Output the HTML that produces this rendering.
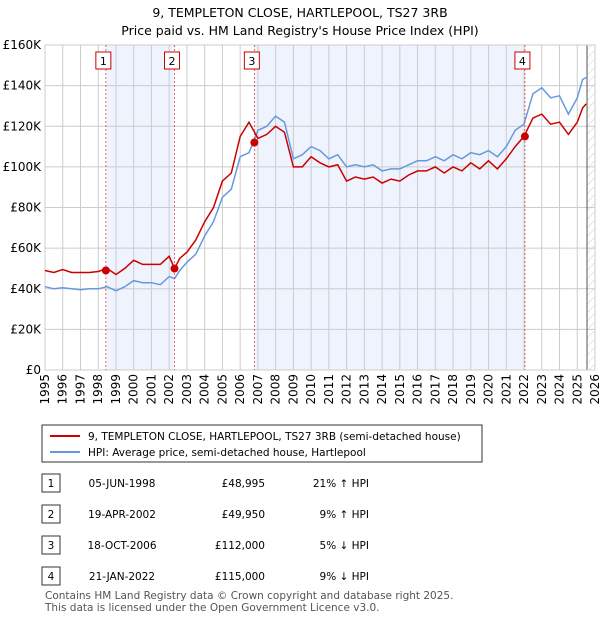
<!DOCTYPE html>
<html><head><meta charset="utf-8"><style>
body{margin:0;background:#fff;font-family:"DejaVu Sans","Liberation Sans",sans-serif;}
svg text{font-family:"DejaVu Sans","Liberation Sans",sans-serif;}
</style></head><body>
<svg id="c" width="600" height="620" xmlns="http://www.w3.org/2000/svg">
<defs><pattern id="hatch" width="6" height="6" patternUnits="userSpaceOnUse" patternTransform="rotate(45)"><line x1="0" y1="0" x2="0" y2="6" stroke="#ccc" stroke-width="1"/></pattern></defs>
<text x="300" y="17" text-anchor="middle" font-size="12.5">9, TEMPLETON CLOSE, HARTLEPOOL, TS27 3RB</text>
<text x="300" y="35" text-anchor="middle" font-size="12.5">Price paid vs. HM Land Registry's House Price Index (HPI)</text>
<g id="plot"></g>
<g id="legend">
<rect x="42" y="425" width="440" height="37" fill="#fff" stroke="#333"/>
<line x1="50" y1="436" x2="80" y2="436" stroke="#cc0000" stroke-width="2"/>
<text x="88" y="440" font-size="10.5">9, TEMPLETON CLOSE, HARTLEPOOL, TS27 3RB (semi-detached house)</text>
<line x1="50" y1="452" x2="80" y2="452" stroke="#6699dd" stroke-width="2"/>
<text x="88" y="456" font-size="10.5">HPI: Average price, semi-detached house, Hartlepool</text>
</g>
<g id="table"></g>
<text x="45" y="599" font-size="10.5" fill="#555">Contains HM Land Registry data © Crown copyright and database right 2025.</text>
<text x="45" y="611" font-size="10.5" fill="#555">This data is licensed under the Open Government Licence v3.0.</text>
</svg>
<script>
const hpiYears=[1995,1995.5,1996,1996.5,1997,1997.5,1998,1998.5,1999,1999.5,2000,2000.5,2001,2001.5,2002,2002.3,2002.6,2003,2003.5,2004,2004.5,2005,2005.5,2006,2006.5,2007,2007.5,2008,2008.5,2009,2009.5,2010,2010.5,2011,2011.5,2012,2012.5,2013,2013.5,2014,2014.5,2015,2015.5,2016,2016.5,2017,2017.5,2018,2018.5,2019,2019.5,2020,2020.5,2021,2021.5,2022,2022.5,2023,2023.5,2024,2024.5,2025,2025.3,2025.5];
const hpiValues=[41,40,40.5,40,39.5,40,40,41,39,41,44,43,43,42,46,45,49,53,57,66,73,85,89,105,107,118,120,125,122,104,106,110,108,104,106,100,101,100,101,98,99,99,101,103,103,105,103,106,104,107,106,108,105,110,118,121,136,139,134,135,126,134,143,144];
const priceValues=[49,48,49.5,48,48,48,48.5,50,47,50,54,52,52,52,56,50,55,58,64,73,80,93,97,115,122,114,116,120,117,100,100,105,102,100,101,93,95,94,95,92,94,93,96,98,98,100,97,100,98,102,99,103,99,104,110,115,124,126,121,122,116,122,129,131];
const saleYears=[1998.43,2002.3,2006.8,2022.05];
const salePrices=[48995,49950,112000,115000];
const saleDates=["05-JUN-1998","19-APR-2002","18-OCT-2006","21-JAN-2022"];
const salePriceLabels=["£48,995","£49,950","£112,000","£115,000"];
const saleDiffs=["21% ↑ HPI","9% ↑ HPI","5% ↓ HPI","9% ↓ HPI"];
const yTicks=[0,20,40,60,80,100,120,140,160];
const xTicks=[1995,1996,1997,1998,1999,2000,2001,2002,2003,2004,2005,2006,2007,2008,2009,2010,2011,2012,2013,2014,2015,2016,2017,2018,2019,2020,2021,2022,2023,2024,2025,2026];

const X0=45,X1=595,Y0=370,Y1=45;
const xs=y=>X0+(y-1995)/(2026-1995)*(X1-X0);
const ys=v=>Y0-v/160*(Y0-Y1);
const NS="http://www.w3.org/2000/svg";
const plot=document.getElementById('plot');
function mk(tag,attrs,parent){const e=document.createElementNS(NS,tag);for(const k in attrs)e.setAttribute(k,attrs[k]);(parent||plot).appendChild(e);return e;}
mk('rect',{x:X0,y:Y1,width:X1-X0,height:Y0-Y1,fill:'#fff'});
for(const [a,b] of [[0,1],[2,3]]){
 const r=mk('rect',{x:xs(saleYears[a]),y:Y1,width:xs(saleYears[b])-xs(saleYears[a]),height:Y0-Y1,fill:'#eef3fd'});
 
 
}
const hx=xs(2025.55);
const h=mk('rect',{x:hx,y:Y1,width:X1-hx,height:Y0-Y1,fill:'url(#hatch)'});


for(const t of yTicks){
 mk('line',{x1:X0,x2:X1,y1:ys(t),y2:ys(t),stroke:'#ccc'});
 const tx=mk('text',{x:X0-4,y:ys(t)+4,'text-anchor':'end','font-size':12});
 tx.textContent=t===0?'£0':'£'+t+'K';
 
 
}
for(const t of xTicks){
 mk('line',{x1:xs(t),x2:xs(t),y1:Y1,y2:Y0,stroke:'#ccc'});
 const tx=mk('text',{x:0,y:0,'text-anchor':'end','font-size':12,transform:`translate(${xs(t)+4},${Y0+4}) rotate(-90)`});
 tx.textContent=t;
 
 
}
mk('line',{x1:hx,x2:hx,y1:Y1,y2:Y0,stroke:'#555'});
mk('rect',{x:X0,y:Y1,width:X1-X0,height:Y0-Y1,fill:'none',stroke:'#ccc'});
const path=(vals)=>hpiYears.map((y,i)=>(i?'L':'M')+xs(y).toFixed(1)+','+ys(vals[i]).toFixed(1)).join('');
const hl=mk('path',{d:path(hpiValues),fill:'none',stroke:'#6699dd','stroke-width':1.5});


const pl=mk('path',{d:path(priceValues),fill:'none',stroke:'#cc0000','stroke-width':1.5});


saleYears.forEach((sy,i)=>{
 mk('line',{x1:xs(sy),x2:xs(sy),y1:Y1,y2:Y0,stroke:'#dd4444','stroke-dasharray':'2,2','stroke-width':0.8});
 const bx=mk('rect',{x:xs(sy)-10,y:52,width:15,height:17,fill:'#fff',stroke:'#cc0000'});
 
 
 const t=mk('text',{x:xs(sy)-2.5,y:65,'text-anchor':'middle','font-size':11});t.textContent=i+1;
 const d=mk('circle',{cx:xs(sy),cy:ys(salePrices[i]/1000),r:4,fill:'#cc0000'});
 
 
});
const tb=document.getElementById('table');
const rowY=[483,514,545,576];
saleDates.forEach((d,i)=>{
 const y=rowY[i];
 const b=mk('rect',{x:42,y:y-9,width:18,height:18,fill:'#fff',stroke:'#333'},tb);
 
 
 let t=mk('text',{x:51,y:y+4,'text-anchor':'middle','font-size':10.5},tb);t.textContent=i+1;
 t=mk('text',{x:122,y:y+4,'text-anchor':'middle','font-size':10.5},tb);t.textContent=d;
 
 
 t=mk('text',{x:265,y:y+4,'text-anchor':'end','font-size':10.5},tb);t.textContent=salePriceLabels[i];
 
 
 t=mk('text',{x:369,y:y+4,'text-anchor':'end','font-size':10.5},tb);t.textContent=saleDiffs[i];
 
 
});
</script>
</body></html>
